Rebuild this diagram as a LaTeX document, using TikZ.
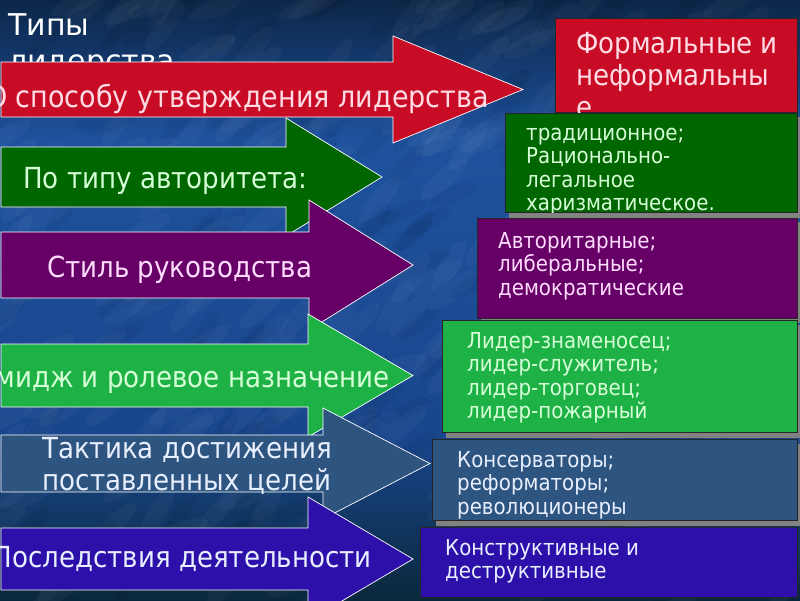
\documentclass[tikz,border=0pt]{standalone}
\usepackage{fontspec}
\setmainfont{DejaVu Sans}
\newfontfamily\arrfont[FakeStretch=0.9]{DejaVu Sans}
\newfontfamily\boxfont[FakeStretch=0.9]{DejaVu Sans}
\definecolor{cRed}{RGB}{200,12,38}
\definecolor{cDGreen}{RGB}{0,102,0}
\definecolor{cPurple}{RGB}{102,0,102}
\definecolor{cLGreen}{RGB}{30,178,70}
\definecolor{cSlate}{RGB}{46,84,128}
\definecolor{cIndigo}{RGB}{45,15,170}
\definecolor{bgTop}{RGB}{12,38,72}
\definecolor{bgMid}{RGB}{30,82,158}
\definecolor{bgMidB}{RGB}{25,70,140}
\definecolor{bgBot}{RGB}{10,40,60}
\definecolor{shadowgray}{RGB}{130,130,130}
\definecolor{tRed}{RGB}{255,220,228}
\definecolor{tGreen}{RGB}{215,255,215}
\definecolor{tPurple}{RGB}{255,220,255}
\definecolor{tBlue}{RGB}{232,240,255}
\newcommand\tlines[1]{\vtop{\halign{##\hfil\cr#1\crcr}}}
\newcommand\clines[1]{\vtop{\halign{\hfil##\hfil\cr#1\crcr}}}
% #1 style, #2 body top, #3 body bottom, #4 head back x, #5 head top, #6 head bottom, #7 tip x
\newcommand\bigarr[7]{\draw[#1] (1,#2) -- (#4,#2) -- (#4,#5) -- (#7,{(#5+#6)/2}) -- (#4,#6) -- (#4,#3) -- (1,#3) -- cycle;}
\begin{document}
\begin{tikzpicture}[x=1pt,y=-1pt,
  arr/.style={draw=white, line width=0.7pt, line join=miter},
  bx/.style={draw=black!85, line width=0.8pt},
  shd/.style={fill=shadowgray},
  atext/.style={font=\arrfont\fontsize{29}{32}\selectfont, inner sep=0pt},
  btext/.style={font=\boxfont\fontsize{22}{23.5}\selectfont, inner sep=0pt, anchor=base west}]
\useasboundingbox (0,0) rectangle (800,600);
% background
\shade[top color=bgTop, bottom color=bgMid] (0,0) rectangle (800,140);
\shade[top color=bgMid, bottom color=bgMidB] (0,139.5) rectangle (800,440);
\shade[top color=bgMidB, bottom color=bgBot] (0,439.5) rectangle (800,600);
\pgfmathsetseed{11}
\begin{scope}
\clip (0,0) rectangle (800,600);
\foreach \i in {1,...,240}{
  \pgfmathsetmacro\xx{800*rnd}\pgfmathsetmacro\yy{600*rnd}\pgfmathsetmacro\rr{20+40*rnd}
  \fill[white,opacity=0.03,rotate around={\rr:(\xx,\yy)}] (\xx,\yy) ellipse (30 and 9);
}
\foreach \i in {1,...,160}{
  \pgfmathsetmacro\xx{800*rnd}\pgfmathsetmacro\yy{600*rnd}\pgfmathsetmacro\rr{20+40*rnd}
  \fill[black,opacity=0.045,rotate around={\rr:(\xx,\yy)}] (\xx,\yy) ellipse (26 and 8);
}
\end{scope}
% title
\node[anchor=base west, inner sep=0pt, text=white, font=\fontsize{30}{36}\selectfont] (title) at (8,35) {\tlines{Типы\cr лидерства}};
% arrows
\bigarr{arr, fill=cRed}{62}{117}{393}{36}{143}{523}
\node[atext, font=\arrfont\fontsize{30}{33}\selectfont, anchor=base east, text=tRed] (a1) at (489,107) {О способу утверждения лидерства};
\bigarr{arr, fill=cDGreen}{147}{207}{286}{118}{236}{382}
\node[atext, anchor=base west, text=tGreen] (a2) at (23,188) {По типу авторитета:};
\bigarr{arr, fill=cPurple}{232}{298}{309}{200}{330}{413}
\node[atext, anchor=base west, text=tPurple] (a3) at (47,277) {Стиль руководства};
\bigarr{arr, fill=cLGreen}{344}{407}{308}{314}{437}{413}
\node[atext, anchor=base east, text=tGreen] (a4) at (390,387) {Имидж и ролевое назначение};
\bigarr{arr, fill=cSlate}{435}{492}{323}{408}{519}{430}
\node[atext, anchor=base, text=tBlue] (a5) at (187,458) {\clines{Тактика достижения\cr поставленных целей}};
\bigarr{arr, fill=cIndigo}{528}{590}{308}{497}{621}{413}
\node[atext, anchor=base east, text=tBlue] (a6) at (372,567) {Последствия деятельности};
% boxes
\draw[bx, fill=cRed] (555,18) rectangle (797,112);
\node[anchor=base west, inner sep=0pt, text=tRed, font=\arrfont\fontsize{29}{32}\selectfont] (b1) at (576,53) {\tlines{Формальные и\cr неформальны\cr е}};
\fill[shd] (509,117) rectangle (801,218);
\draw[bx, fill=cDGreen] (505,113) rectangle (797,212);
\begin{scope}
\clip (505,113) rectangle (797,212);
\node[btext, text=tGreen] (b2) at (526,140) {\tlines{традиционное;\cr Рационально-\cr легальное\cr харизматическое.}};
\end{scope}
\fill[shd] (481,222) rectangle (801,323);
\draw[bx, fill=cPurple] (477,218) rectangle (797,318);
\node[btext, text=tPurple] (b3) at (498,248) {\tlines{Авторитарные;\cr либеральные;\cr демократические}};
\fill[shd] (446,325) rectangle (801,438);
\draw[bx, fill=cLGreen] (442,320) rectangle (797,432);
\node[btext, text=tGreen] (b4) at (467,348) {\tlines{Лидер-знаменосец;\cr лидер-служитель;\cr лидер-торговец;\cr лидер-пожарный}};
\fill[shd] (436,444) rectangle (801,526);
\draw[bx, fill=cSlate] (432,439) rectangle (797,520);
\node[btext, text=tBlue] (b5) at (457,467) {\tlines{Консерваторы;\cr реформаторы;\cr революционеры}};
\draw[bx, fill=cIndigo] (420,527) rectangle (797,597);
\node[btext, text=tBlue] (b6) at (445,555) {\tlines{Конструктивные и\cr деструктивные}};
\end{tikzpicture}
\end{document}
